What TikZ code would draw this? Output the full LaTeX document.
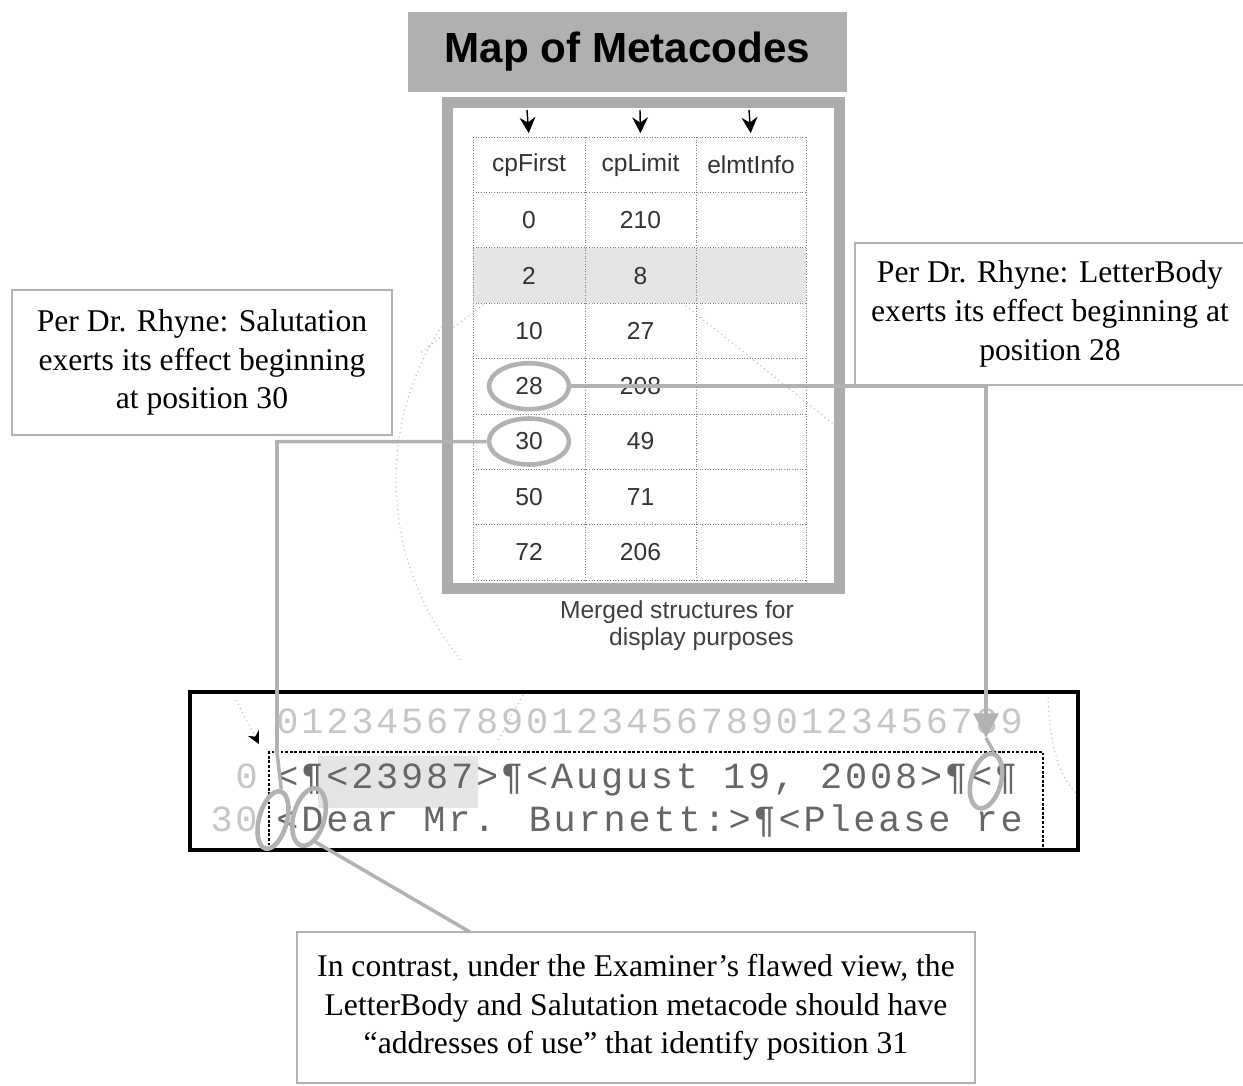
\documentclass[tikz,border=0pt]{standalone}
\usepackage{fontspec}
\setmainfont{Liberation Serif}
\setsansfont{Liberation Sans}
\newfontfamily\codefont[LetterSpace=7.7]{Liberation Mono}
\usetikzlibrary{shapes.geometric,arrows.meta}

\begin{document}
\begin{tikzpicture}[x=0.02cm,y=-0.02cm,
    callout/.style={draw=gray!60,line width=1.4pt,fill=white,align=center,inner sep=0pt,
        font=\fontsize{18}{22}\selectfont},
    cell/.style={font=\sffamily\fontsize{14}{16}\selectfont,text=black!80},
    oval/.style={ellipse,draw=gray!60,line width=2.6pt,inner sep=0pt},
    link/.style={draw=gray!60,line width=2pt},
    headarrow/.style={line width=0.8pt,-{Stealth[length=9pt,width=9pt]}},
    gridline/.style={densely dotted,gray,line width=0.5pt},
    faint/.style={dotted,gray!55,line width=0.6pt},
    code/.style={font=\codefont\fontsize{21}{26}\selectfont,anchor=base west,inner sep=0pt}]
    \useasboundingbox (0,0) rectangle (1243,1085);

    % Faint traces in the background
    \draw [faint] (441.5,326.3) arc [start angle=213, end angle=140, radius=282];
    \draw [faint] (520,277) -- (420,353);
    \draw [faint] (650,277) -- (837,427);
    \draw [faint] (1048,697) .. controls (1050,745) and (1058,775) .. (1076,793);
    \draw [faint] (523,695) -- (497,742);
    \draw [faint,-{Stealth[length=7pt,width=7pt,black]}] (236,700) -- (259,744);

    % Title
    \node [fill=gray!62,minimum width=8.78cm,minimum height=1.62cm,inner sep=0pt,
        font=\sffamily\bfseries\fontsize{24}{28}\selectfont] (title) at (627.5,52) {Map of Metacodes};

    % Frame of the table
    \draw [gray!65,line width=0.22cm] (447.5,102.5) rectangle (839.5,588.5);

    % Shaded row
    \fill [gray!20] (473,247.8) rectangle (806,303.2);

    % Grid
    \foreach \i in {0,...,8}
        \draw [gridline] (473,137+55.4*\i) -- (806,137+55.4*\i);
    \foreach \x in {473,585,696,806}
        \draw [gridline] (\x,137) -- (\x,580.2);

    % Header
    \node [cell,minimum width=2.2cm,minimum height=1.1cm] (hFirst) at (529,165) {cpFirst};
    \node [cell,minimum width=2.2cm,minimum height=1.1cm] (hLimit) at (640.5,165) {cpLimit};
    \node [cell,minimum width=2.2cm,minimum height=1.1cm] (hInfo) at (751,165) {elmtInfo};
    \coordinate (aFirst) at (527,110);
    \coordinate (aLimit) at (640,110);
    \coordinate (aInfo) at (749,110);
    \draw [headarrow,shorten >=0.08cm] (aFirst) -- (hFirst.north);
    \draw [headarrow,shorten >=0.08cm] (aLimit) -- (hLimit.north);
    \draw [headarrow,shorten >=0.08cm] (aInfo) -- (hInfo.north);

    % Rows
    \foreach \a/\b [count=\r] in {0/210,2/8,10/27,28/208,30/49,50/71,72/206} {
        \node [cell] (first\r) at (529,165+55.3*\r) {\a};
        \node [cell] (limit\r) at (640.5,165+55.3*\r) {\b};
    }

    % Caption under the table
    \node [cell,anchor=base east,text=black!75] (merged) at (800,618) {Merged structures for};
    \node [cell,anchor=base east,text=black!75] (display) at (800,645) {display purposes};

    % Text window
    \draw [line width=2.3pt] (190,692) rectangle (1078,850);
    \fill [gray!20] (318,756) rectangle (478,808);
    \draw [densely dotted,line width=1.6pt] (269,850) -- (269,752) -- (1043,752) -- (1043,850);
    \node [code,text=gray!45] (digits) at (276,733) {012345678901234567890123456789};
    \node [code,text=gray!45,anchor=base east] (num0) at (258,788) {0};
    \node [code,text=gray!45,anchor=base east] (num30) at (258,831) {30};
    \node [code,text=black!60] (line0) at (276,788) {<¶<23987>¶<August 19, 2008>¶<¶};
    \node [code,text=black!60] (line30) at (276,831) {<Dear Mr. Burnett:>¶<Please re};

    % Rings
    \node [oval,minimum width=1.6cm,minimum height=0.92cm] (ring28) at (first4) {};
    \node [oval,minimum width=1.6cm,minimum height=0.92cm] (ring30) at (first5) {};
    \node [oval,minimum width=0.6cm,minimum height=1.12cm,rotate=-15] (mark28) at (986,781) {};
    \node [oval,minimum width=0.56cm,minimum height=1.18cm,rotate=-15] (mark30) at (273,820) {};
    \node [oval,minimum width=0.62cm,minimum height=1.18cm,rotate=-15] (mark31) at (309,817) {};

    % Callouts
    \node [callout,minimum width=7.6cm,minimum height=2.9cm] (saluteNote) at (202,362.5)
        {Per Dr. Rhyne: Salutation\\exerts its effect beginning\\at position 30};
    \node [callout,minimum width=7.8cm,minimum height=2.84cm] (bodyNote) at (1050,314)
        {Per Dr. Rhyne: LetterBody\\exerts its effect beginning at\\position 28};
    \node [callout,minimum width=13.56cm,minimum height=3.02cm] (examNote) at (636,1007.5)
        {In contrast, under the Examiner’s flawed view, the\\LetterBody and Salutation metacode should have\\“addresses of use” that identify position 31};

    % Leaders
    \coordinate (saluteDrop) at (277,752);
    \draw [link] (ring30.west) -| (saluteDrop) -- (mark30.north);

    \coordinate (bodyTip) at (986,738);
    \draw [link,-{Triangle[length=14pt,width=14pt]}] (ring28.east) -| (bodyTip);
    \draw [link] (bodyTip) -- (mark28.north);

    \coordinate (examFoot) at (470,932);
    \draw [link] (examFoot) -- (mark31.south east);
\end{tikzpicture}
\end{document}
